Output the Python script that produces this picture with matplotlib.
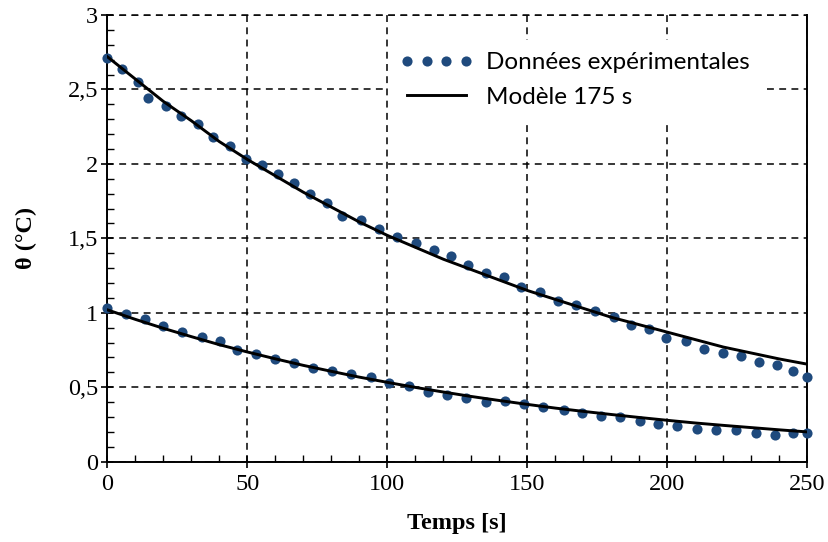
import matplotlib.pyplot as plt
import numpy as np
from matplotlib.ticker import MultipleLocator, FuncFormatter

# experimental points, upper run
t_up = [0, 5.1, 10.8, 14.4, 20.9, 26.3, 32.5, 37.9, 43.8, 49.5, 55.1, 60.9, 66.5, 72.4,
        78.4, 83.7, 90.6, 97.0, 103.4, 110.2, 116.7, 122.8, 128.7, 135.2, 141.5, 147.8,
        154.4, 160.8, 167.4, 174.2, 180.9, 186.9, 193.5, 199.7, 206.6, 213.2, 219.8,
        226.4, 232.8, 239.2, 244.8, 250]
th_up = [2.71, 2.64, 2.55, 2.44, 2.39, 2.32, 2.27, 2.18, 2.12, 2.03, 1.99, 1.93, 1.87, 1.80,
         1.74, 1.65, 1.62, 1.56, 1.51, 1.47, 1.42, 1.38, 1.32, 1.27, 1.24, 1.17,
         1.14, 1.08, 1.05, 1.01, 0.97, 0.92, 0.89, 0.83, 0.81, 0.76, 0.73,
         0.71, 0.67, 0.65, 0.61, 0.57]

# experimental points, lower run
t_lo = [0, 6.6, 13.5, 20.0, 26.8, 33.7, 40.2, 46.4, 53.1, 59.9, 66.8, 73.6, 80.4, 87.1,
        94.1, 100.7, 107.8, 114.4, 121.2, 128.1, 135.1, 142.0, 148.8, 155.7, 163.0, 169.6,
        176.3, 183.2, 190.1, 196.7, 203.5, 210.6, 217.4, 224.4, 231.5, 238.4, 245.0, 250]
th_lo = [1.03, 0.99, 0.96, 0.91, 0.87, 0.84, 0.81, 0.75, 0.72, 0.69, 0.66, 0.63, 0.61, 0.59,
         0.57, 0.53, 0.51, 0.47, 0.45, 0.43, 0.40, 0.41, 0.39, 0.37, 0.35, 0.33,
         0.31, 0.30, 0.27, 0.25, 0.24, 0.22, 0.21, 0.21, 0.19, 0.18, 0.19, 0.19]

# model curves (read every 10 s)
t_mod = [0, 10, 20, 30, 40, 50, 60, 70, 80, 90, 100, 110, 120, 130, 140, 150, 160, 170,
         180, 190, 200, 210, 220, 230, 240, 250]
mod_up = [2.72, 2.57, 2.42, 2.29, 2.15, 2.03, 1.92, 1.81, 1.71, 1.61, 1.52, 1.44, 1.36,
          1.29, 1.22, 1.15, 1.09, 1.03, 0.97, 0.92, 0.87, 0.82, 0.77, 0.73, 0.69, 0.655]
mod_lo = [1.02, 0.956, 0.896, 0.84, 0.786, 0.737, 0.691, 0.647, 0.607, 0.568, 0.533, 0.499,
          0.468, 0.438, 0.411, 0.385, 0.36, 0.338, 0.317, 0.297, 0.278, 0.26, 0.244, 0.229,
          0.214, 0.2]

lbl_data = "Données expérimentales"
lbl_mod = "Modèle 175 s"

W, H = 829, 542
fig = plt.figure(figsize=(W/100, H/100), dpi=100)
ax = fig.add_axes([107.3/W, 1-461.7/H, 700/W, 446.7/H])

blue = "#1F4A7D"
ax.plot(t_up, th_up, "o", color=blue, ms=7.3, mew=0, clip_on=False, zorder=3, label=lbl_data)
ax.plot(t_lo, th_lo, "o", color=blue, ms=7.3, mew=0, clip_on=False, zorder=3)
ax.plot(t_mod, mod_up, "-", color="black", lw=2.1, zorder=4, label=lbl_mod)
ax.plot(t_mod, mod_lo, "-", color="black", lw=2.1, zorder=4)

ax.set_xlim(0, 250)
ax.set_ylim(0, 3)
ax.xaxis.set_major_locator(MultipleLocator(50))
ax.xaxis.set_minor_locator(MultipleLocator(10))
ax.yaxis.set_major_locator(MultipleLocator(0.5))
ax.yaxis.set_minor_locator(MultipleLocator(0.1))
ax.yaxis.set_major_formatter(FuncFormatter(lambda v, p: ("%g" % v).replace(".", ",")))

ax.grid(True, which="major", color="black", ls=(0, (4.5, 3.5)), lw=1.1)
ax.set_axisbelow(True)
ax.spines["top"].set_visible(False)
for s in ["left", "bottom", "right"]:
    ax.spines[s].set_linewidth(1.4)
ax.axhline(3, color="black", ls=(0, (4.5, 3.5)), lw=1.1, clip_on=False, zorder=1)

ax.tick_params(which="major", direction="inout", length=9, width=1.2, right=False, top=False)
ax.tick_params(which="minor", direction="in", length=5, width=1.0, right=False, top=False)
for lab in ax.get_xticklabels() + ax.get_yticklabels():
    lab.set_fontfamily("Liberation Serif")
    lab.set_fontsize(17.5)
ax.tick_params(axis="x", pad=4)
ax.tick_params(axis="y", pad=2)

ax.set_xlabel("Temps [s]", fontfamily="Liberation Serif", fontsize=17.5, fontweight="bold", labelpad=13)
ax.set_ylabel("θ (°C)", fontfamily="Liberation Serif", fontsize=17.5, fontweight="bold", labelpad=22)

leg = ax.legend(loc="upper left", bbox_to_anchor=(388/W, 1-40/H), bbox_transform=fig.transFigure,
                numpoints=4, handlelength=3.0, handletextpad=0.55, labelspacing=0.55,
                borderaxespad=0, borderpad=0.5, frameon=True, fancybox=False,
                prop={"family": "Lato", "size": 17.5})
leg.get_frame().set_facecolor("white")
leg.get_frame().set_edgecolor("none")
leg.get_frame().set_alpha(1)
leg.set_zorder(5)

fig.savefig("out.png", dpi=100)
